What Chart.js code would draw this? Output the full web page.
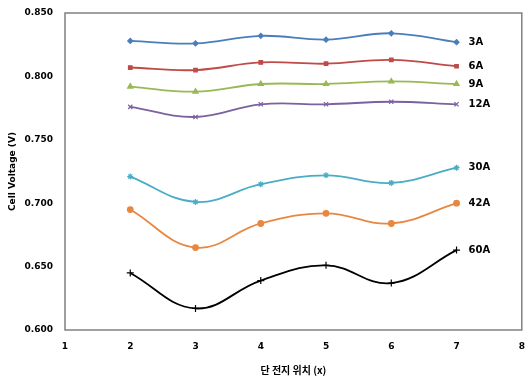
<!DOCTYPE html>
<html>
<head>
<meta charset="utf-8">
<script src="https://cdn.jsdelivr.net/npm/chart.js@4"></script>
<style>
  html, body { margin: 0; padding: 0; background: #fff; }
  #wrap { width: 527px; height: 380px; }
</style>
</head>
<body>
<div id="wrap"><canvas id="chart" width="527" height="380"></canvas></div>
<script>
const positions = [2, 3, 4, 5, 6, 7];
const seriesNames = ['3A', '6A', '9A', '12A', '30A', '42A', '60A'];
const v3A  = [0.828, 0.826, 0.832, 0.829, 0.834, 0.827];
const v6A  = [0.807, 0.805, 0.811, 0.810, 0.813, 0.808];
const v9A  = [0.792, 0.788, 0.794, 0.794, 0.796, 0.794];
const v12A = [0.776, 0.768, 0.778, 0.778, 0.780, 0.778];
const v30A = [0.721, 0.701, 0.715, 0.722, 0.716, 0.728];
const v42A = [0.695, 0.665, 0.684, 0.692, 0.684, 0.700];
const v60A = [0.645, 0.617, 0.639, 0.651, 0.637, 0.663];
const xTicks = [1, 2, 3, 4, 5, 6, 7, 8];
const yTicks = [0.600, 0.650, 0.700, 0.750, 0.800, 0.850];

const allValues = [v3A, v6A, v9A, v12A, v30A, v42A, v60A];
const colors = ['#4a7ebb', '#be4b48', '#98b954', '#7d60a0', '#4bacc6', '#e8873f', '#000000'];
const markers = ['rectRot', 'rect', 'triangle', 'crossRot', 'star', 'circle', 'cross'];
const markerSizes = [2.5, 2.5, 3, 3, 3, 2.8, 3.5];

const font = { family: 'DejaVu Sans', size: 9, weight: 'bold' };

// writes the series name next to the last point of each line
const endLabels = {
  id: 'endLabels',
  afterDatasetsDraw(chart) {
    const ctx = chart.ctx;
    ctx.save();
    ctx.font = 'bold 10px "DejaVu Sans"';
    ctx.fillStyle = '#000';
    ctx.textBaseline = 'middle';
    chart.data.datasets.forEach((ds, i) => {
      const pts = chart.getDatasetMeta(i).data;
      const last = pts[pts.length - 1];
      ctx.fillText(ds.label, last.x + 12, last.y);
    });
    ctx.restore();
  }
};

// box round the plot area
const frame = {
  id: 'frame',
  beforeDatasetsDraw(chart) {
    const a = chart.chartArea;
    const ctx = chart.ctx;
    ctx.save();
    ctx.strokeStyle = '#808080';
    ctx.lineWidth = 1.5;
    ctx.strokeRect(a.left, a.top, a.right - a.left, a.bottom - a.top);
    ctx.restore();
  }
};

const ctx = document.getElementById('chart').getContext('2d');
new Chart(ctx, {
  type: 'line',
  data: {
    datasets: seriesNames.map((name, i) => ({
      label: name,
      data: positions.map((p, j) => ({ x: p, y: allValues[i][j] })),
      borderColor: colors[i],
      backgroundColor: colors[i],
      borderWidth: 1.8,
      pointStyle: markers[i],
      pointRadius: markerSizes[i],
      pointBorderWidth: 1.2,
      tension: 0.4,
      fill: false
    }))
  },
  options: {
    responsive: false,
    animation: false,
    layout: { padding: { top: 13, right: 4, left: 7, bottom: 0 } },
    plugins: { legend: { display: false }, tooltip: { enabled: false } },
    scales: {
      x: {
        type: 'linear',
        min: 1, max: 8,
        afterBuildTicks: s => { s.ticks = xTicks.map(v => ({ value: v })); },
        afterFit: s => { s.height = 50; s.paddingLeft = 0; s.paddingRight = 0; },
        grid: { display: false, drawTicks: false },
        border: { display: false },
        ticks: { font: font, color: '#000', padding: 11 },
        title: { display: true, text: '단 전지 위치 (x)', font: { family: 'Noto Sans CJK KR', size: 10, weight: 'bold' }, color: '#000', padding: { top: 0, bottom: 4 } }
      },
      y: {
        min: 0.6, max: 0.85,
        afterBuildTicks: s => { s.ticks = yTicks.map(v => ({ value: v })); },
        afterFit: s => { s.width = 58; s.paddingTop = 0; s.paddingBottom = 0; },
        grid: { display: false, drawTicks: false },
        border: { display: false },
        ticks: { font: font, color: '#000', padding: 12, callback: v => v.toFixed(3) },
        title: { display: true, text: 'Cell Voltage (V)', font: { family: 'DejaVu Sans', size: 9, weight: 'bold' }, color: '#000', padding: 0 }
      }
    }
  },
  plugins: [frame, endLabels]
});
</script>
</body>
</html>
